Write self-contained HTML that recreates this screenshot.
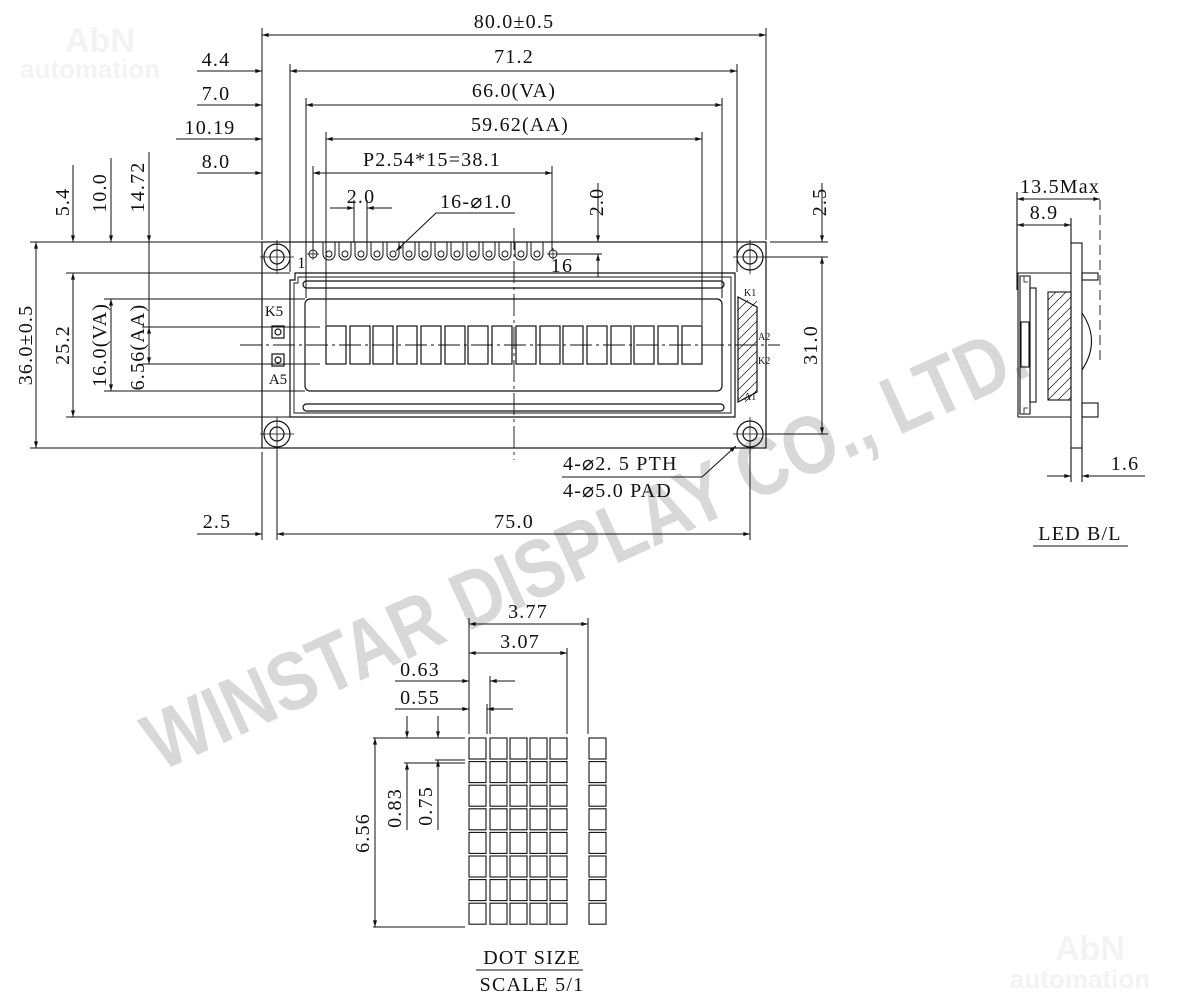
<!DOCTYPE html>
<html><head><meta charset="utf-8"><style>
html,body{margin:0;padding:0;background:#fff;}
svg{display:block}
.t{font-family:"Liberation Serif",serif;font-size:20px;fill:#111;letter-spacing:1.2px}
.s{font-family:"Liberation Serif",serif;font-size:10px;fill:#111}
</style></head><body>
<svg width="1200" height="1008" viewBox="0 0 1200 1008" xmlns="http://www.w3.org/2000/svg">
<defs>
<marker id="a" viewBox="0 0 10 6" refX="10" refY="3" markerWidth="11" markerHeight="4" markerUnits="userSpaceOnUse" orient="auto-start-reverse"><path d="M0,0L10,3L0,6z" fill="#111"/></marker>
</defs>
<!-- watermarks -->
<text x="65" y="52" font-family="Liberation Sans,sans-serif" font-weight="bold" font-size="34" fill="#f3f3f3">AbN</text>
<text x="20" y="78" font-family="Liberation Sans,sans-serif" font-weight="bold" font-size="26" fill="#f3f3f3">automation</text>
<text x="1055" y="960" font-family="Liberation Sans,sans-serif" font-weight="bold" font-size="34" fill="#f3f3f3">AbN</text>
<text x="1010" y="988" font-family="Liberation Sans,sans-serif" font-weight="bold" font-size="26" fill="#f3f3f3">automation</text>
<text transform="translate(160,772) rotate(-24.5)" font-family="Liberation Sans,sans-serif" font-weight="bold" font-size="82" fill="#d8d8d8" textLength="960" lengthAdjust="spacingAndGlyphs">WINSTAR DISPLAY CO., LTD.</text>

<g stroke="#111" stroke-width="1.2" fill="none">
<rect x="262" y="242" width="504" height="206"/>
<g>
<circle cx="277" cy="257" r="13"/><circle cx="277" cy="257" r="7"/>
<circle cx="750" cy="257" r="13"/><circle cx="750" cy="257" r="7"/>
<circle cx="277" cy="434" r="13"/><circle cx="277" cy="434" r="7"/>
<circle cx="750" cy="434" r="13"/><circle cx="750" cy="434" r="7"/>
<path d="M260,257H294M277,240V274M733,257H767M750,240V274M260,434H294M277,417V451M733,434H767M750,417V451" stroke-width="0.8"/>
</g>
<path d="M295,273H735V417H290V280H295Z"/>
<path d="M298,277H731V413H294V283H298Z" stroke-width="0.9"/>
<rect x="303" y="281" width="421" height="7" rx="3.5"/>
<rect x="303" y="404" width="421" height="7" rx="3.5"/>
<rect x="305" y="299" width="417" height="92" rx="5"/>
<g>
<rect x="326" y="326" width="20" height="38"/><rect x="350" y="326" width="20" height="38"/><rect x="373" y="326" width="20" height="38"/><rect x="397" y="326" width="20" height="38"/>
<rect x="421" y="326" width="20" height="38"/><rect x="445" y="326" width="20" height="38"/><rect x="468" y="326" width="20" height="38"/><rect x="492" y="326" width="20" height="38"/>
<rect x="516" y="326" width="20" height="38"/><rect x="540" y="326" width="20" height="38"/><rect x="563" y="326" width="20" height="38"/><rect x="587" y="326" width="20" height="38"/>
<rect x="611" y="326" width="20" height="38"/><rect x="634" y="326" width="20" height="38"/><rect x="658" y="326" width="20" height="38"/><rect x="682" y="326" width="20" height="38"/>
</g>
<path d="M514,228V460" stroke-dasharray="22,4,3,4" stroke-width="0.9"/>
<path d="M240,345H780" stroke-dasharray="22,4,3,4" stroke-width="0.9"/>
<path d="M738,297L757,307V392L738,402Z"/>
<g stroke-width="0.7">
<path d="M738,310L748,300M738,320L757,301M738,330L757,311M738,340L757,321M738,350L757,331M738,360L757,341M738,370L757,351M738,380L757,361M738,390L757,371M738,400L757,381M745,402L757,390"/>
</g>
<rect x="272" y="326" width="12" height="12"/><circle cx="278" cy="332" r="3"/>
<rect x="272" y="354" width="12" height="12"/><circle cx="278" cy="360" r="3"/>
<g stroke-width="1">
<circle cx="313" cy="254" r="4"/><path d="M307,254H319M313,248V260" stroke-width="0.7"/>
<circle cx="553" cy="254" r="4"/><path d="M547,254H559M553,248V260" stroke-width="0.7"/>
<path d="M323,242V254A6,6 0 0 0 335,254V242M339,242V254A6,6 0 0 0 351,254V242M355,242V254A6,6 0 0 0 367,254V242M371,242V254A6,6 0 0 0 383,254V242M387,242V254A6,6 0 0 0 399,254V242M403,242V254A6,6 0 0 0 415,254V242M419,242V254A6,6 0 0 0 431,254V242M435,242V254A6,6 0 0 0 447,254V242M451,242V254A6,6 0 0 0 463,254V242M467,242V254A6,6 0 0 0 479,254V242M483,242V254A6,6 0 0 0 495,254V242M499,242V254A6,6 0 0 0 511,254V242M515,242V254A6,6 0 0 0 527,254V242M531,242V254A6,6 0 0 0 543,254V242"/>
<circle cx="329" cy="254" r="3"/><circle cx="345" cy="254" r="3"/><circle cx="361" cy="254" r="3"/><circle cx="377" cy="254" r="3"/><circle cx="393" cy="254" r="3"/><circle cx="409" cy="254" r="3"/><circle cx="425" cy="254" r="3"/><circle cx="441" cy="254" r="3"/><circle cx="457" cy="254" r="3"/><circle cx="473" cy="254" r="3"/><circle cx="489" cy="254" r="3"/><circle cx="505" cy="254" r="3"/><circle cx="521" cy="254" r="3"/><circle cx="537" cy="254" r="3"/>
</g>
</g>

<g stroke="#111" stroke-width="1" fill="none">
<path d="M262,28V240M766,28V240M290,64V272M737,64V272M306,98V298M722,98V298M326,132V325M702,132V325M313,166V250M552,166V250M354,200V242M367,200V242"/>
<line x1="262" y1="35" x2="766" y2="35" marker-start="url(#a)" marker-end="url(#a)"/>
<line x1="197" y1="71" x2="262" y2="71" marker-end="url(#a)"/>
<line x1="290" y1="71" x2="737" y2="71" marker-start="url(#a)" marker-end="url(#a)"/>
<line x1="197" y1="105" x2="262" y2="105" marker-end="url(#a)"/>
<line x1="306" y1="105" x2="722" y2="105" marker-start="url(#a)" marker-end="url(#a)"/>
<line x1="176" y1="139" x2="262" y2="139" marker-end="url(#a)"/>
<line x1="326" y1="139" x2="702" y2="139" marker-start="url(#a)" marker-end="url(#a)"/>
<line x1="197" y1="173" x2="262" y2="173" marker-end="url(#a)"/>
<line x1="313" y1="173" x2="552" y2="173" marker-start="url(#a)" marker-end="url(#a)"/>
<line x1="330" y1="208" x2="354" y2="208" marker-end="url(#a)"/>
<line x1="392" y1="208" x2="367" y2="208" marker-end="url(#a)"/>
<path d="M515,213H436"/>
<line x1="436" y1="213" x2="396" y2="251" marker-end="url(#a)"/>
<line x1="598" y1="183" x2="598" y2="242" marker-end="url(#a)"/>
<line x1="598" y1="277" x2="598" y2="254" marker-end="url(#a)"/>
<path d="M558,254H602"/>
<path d="M30,242H262M66,273H290M104,299H305M142,327H320M142,364H320M104,391H305M66,417H290M30,448H262"/>
<line x1="36" y1="242" x2="36" y2="448" marker-start="url(#a)" marker-end="url(#a)"/>
<line x1="73" y1="165" x2="73" y2="242" marker-end="url(#a)"/>
<line x1="73" y1="273" x2="73" y2="417" marker-start="url(#a)" marker-end="url(#a)"/>
<line x1="111" y1="158" x2="111" y2="242" marker-end="url(#a)"/>
<line x1="111" y1="299" x2="111" y2="391" marker-start="url(#a)" marker-end="url(#a)"/>
<line x1="149" y1="152" x2="149" y2="242" marker-end="url(#a)"/>
<line x1="149" y1="242" x2="149" y2="327"/>
<line x1="149" y1="345" x2="149" y2="327" marker-end="url(#a)"/>
<line x1="149" y1="345" x2="149" y2="364" marker-end="url(#a)"/>
<path d="M770,242H828M765,257H828M765,434H828"/>
<line x1="822" y1="183" x2="822" y2="242" marker-end="url(#a)"/>
<line x1="822" y1="257" x2="822" y2="434" marker-start="url(#a)" marker-end="url(#a)"/>
<path d="M262,452V540M277,450V540M750,450V540"/>
<line x1="197" y1="534" x2="262" y2="534" marker-end="url(#a)"/>
<line x1="277" y1="534" x2="750" y2="534" marker-start="url(#a)" marker-end="url(#a)"/>
<path d="M562,477H702"/>
<line x1="702" y1="477" x2="736" y2="446" marker-end="url(#a)"/>
</g>

<g stroke="#111" stroke-width="1.1" fill="none">
<rect x="1071" y="243" width="11" height="205"/>
<path d="M1071,273H1018V417H1071"/>
<rect x="1082" y="273" width="16" height="7"/>
<rect x="1082" y="403" width="16" height="14"/>
<path d="M1020,276H1030V414H1020Z"/>
<path d="M1024,276V282H1028M1024,414V408H1028" stroke-width="0.8"/>
<rect x="1030" y="288" width="6" height="114"/>
<rect x="1021" y="322" width="8" height="45"/>
<rect x="1048" y="292" width="23" height="108"/>
<g stroke-width="0.7">
<path d="M1048,300L1056,292M1048,310L1066,292M1048,320L1071,297M1048,330L1071,307M1048,340L1071,317M1048,350L1071,327M1048,360L1071,337M1048,370L1071,347M1048,380L1071,357M1048,390L1071,367M1048,400L1071,377M1058,400L1071,387M1068,400L1071,397"/>
</g>
<path d="M1082,313Q1101,341 1082,370"/>
<path d="M1100,200V362" stroke-dasharray="10,5" stroke-width="0.9"/>
<path d="M1017,192V290M1071,218V243"/>
<line x1="1060" y1="199" x2="1017" y2="199" marker-end="url(#a)"/>
<line x1="1060" y1="199" x2="1100" y2="199" marker-end="url(#a)"/>
<line x1="1044" y1="225" x2="1017" y2="225" marker-end="url(#a)"/>
<line x1="1044" y1="225" x2="1071" y2="225" marker-end="url(#a)"/>
<path d="M1071,448V482M1082,448V482"/>
<line x1="1047" y1="476" x2="1071" y2="476" marker-end="url(#a)"/>
<line x1="1145" y1="476" x2="1082" y2="476" marker-end="url(#a)"/>
<path d="M1033,546H1128"/>
</g>

<g stroke="#111" stroke-width="1.1" fill="none">
<g id="row">
<rect x="469" y="738" width="17" height="21"/><rect x="490" y="738" width="17" height="21"/><rect x="510" y="738" width="17" height="21"/><rect x="530" y="738" width="17" height="21"/><rect x="550" y="738" width="17" height="21"/><rect x="589" y="738" width="17" height="21"/>
</g>
<use href="#row" y="23.6"/><use href="#row" y="47.2"/><use href="#row" y="70.8"/><use href="#row" y="94.4"/><use href="#row" y="118"/><use href="#row" y="141.6"/><use href="#row" y="165.2"/>
</g>
<g stroke="#111" stroke-width="1" fill="none">
<path d="M469,618V734M567,648V734M588,618V734M490,676V734M487,704V734"/>
<line x1="469" y1="624" x2="588" y2="624" marker-start="url(#a)" marker-end="url(#a)"/>
<line x1="469" y1="653" x2="567" y2="653" marker-start="url(#a)" marker-end="url(#a)"/>
<line x1="395" y1="681" x2="469" y2="681" marker-end="url(#a)"/>
<line x1="515" y1="681" x2="490" y2="681" marker-end="url(#a)"/>
<line x1="395" y1="709" x2="469" y2="709" marker-end="url(#a)"/>
<line x1="513" y1="709" x2="487" y2="709" marker-end="url(#a)"/>
<path d="M373,738H465M373,927H465M404,763H465M435,760H465"/>
<line x1="375" y1="738" x2="375" y2="927" marker-start="url(#a)" marker-end="url(#a)"/>
<line x1="407" y1="716" x2="407" y2="738" marker-end="url(#a)"/>
<line x1="407" y1="830" x2="407" y2="763" marker-end="url(#a)"/>
<line x1="438" y1="716" x2="438" y2="738" marker-end="url(#a)"/>
<line x1="438" y1="830" x2="438" y2="760" marker-end="url(#a)"/>
<path d="M476,970H583"/>
</g>

<g class="t">
<text x="514" y="28" text-anchor="middle">80.0±0.5</text>
<text x="514" y="63" text-anchor="middle">71.2</text>
<text x="514" y="97" text-anchor="middle">66.0(VA)</text>
<text x="520" y="131" text-anchor="middle">59.62(AA)</text>
<text x="432" y="166" text-anchor="middle">P2.54*15=38.1</text>
<text x="216" y="66" text-anchor="middle">4.4</text>
<text x="216" y="100" text-anchor="middle">7.0</text>
<text x="210" y="134" text-anchor="middle">10.19</text>
<text x="216" y="168" text-anchor="middle">8.0</text>
<text x="361" y="203" text-anchor="middle">2.0</text>
<text x="476" y="208" text-anchor="middle">16-⌀1.0</text>
<text x="562" y="272" text-anchor="middle">16</text>
<text x="302" y="268" text-anchor="middle" style="font-size:16px">1</text>
<text x="274" y="316" text-anchor="middle" style="font-size:15px;letter-spacing:0">K5</text>
<text x="278" y="384" text-anchor="middle" style="font-size:15px;letter-spacing:0">A5</text>
<text transform="translate(69,202) rotate(-90)" text-anchor="middle">5.4</text>
<text transform="translate(106,193) rotate(-90)" text-anchor="middle">10.0</text>
<text transform="translate(144,187) rotate(-90)" text-anchor="middle">14.72</text>
<text transform="translate(32,345) rotate(-90)" text-anchor="middle">36.0±0.5</text>
<text transform="translate(69,345) rotate(-90)" text-anchor="middle">25.2</text>
<text transform="translate(106,345) rotate(-90)" text-anchor="middle">16.0(VA)</text>
<text transform="translate(144,347) rotate(-90)" text-anchor="middle">6.56(AA)</text>
<text transform="translate(603,202) rotate(-90)" text-anchor="middle">2.0</text>
<text transform="translate(826,202) rotate(-90)" text-anchor="middle">2.5</text>
<text transform="translate(817,345) rotate(-90)" text-anchor="middle">31.0</text>
<text x="563" y="470">4-⌀2. 5 PTH</text>
<text x="563" y="497">4-⌀5.0 PAD</text>
<text x="217" y="528" text-anchor="middle">2.5</text>
<text x="514" y="528" text-anchor="middle">75.0</text>
<text x="1060" y="193" text-anchor="middle">13.5Max</text>
<text x="1044" y="219" text-anchor="middle">8.9</text>
<text x="1125" y="470" text-anchor="middle">1.6</text>
<text x="1080" y="540" text-anchor="middle">LED B/L</text>
<text x="528" y="618" text-anchor="middle">3.77</text>
<text x="520" y="648" text-anchor="middle">3.07</text>
<text x="420" y="676" text-anchor="middle">0.63</text>
<text x="420" y="704" text-anchor="middle">0.55</text>
<text transform="translate(401,808) rotate(-90)" text-anchor="middle">0.83</text>
<text transform="translate(432,806) rotate(-90)" text-anchor="middle">0.75</text>
<text transform="translate(369,833) rotate(-90)" text-anchor="middle">6.56</text>
<text x="532" y="964" text-anchor="middle">DOT SIZE</text>
<text x="532" y="991" text-anchor="middle">SCALE 5/1</text>
</g>
<g class="s">
<text x="744" y="296">K1</text>
<text x="758" y="340">A2</text>
<text x="758" y="364">K2</text>
<text x="744" y="400">A1</text>
</g>
</svg>
</body></html>
